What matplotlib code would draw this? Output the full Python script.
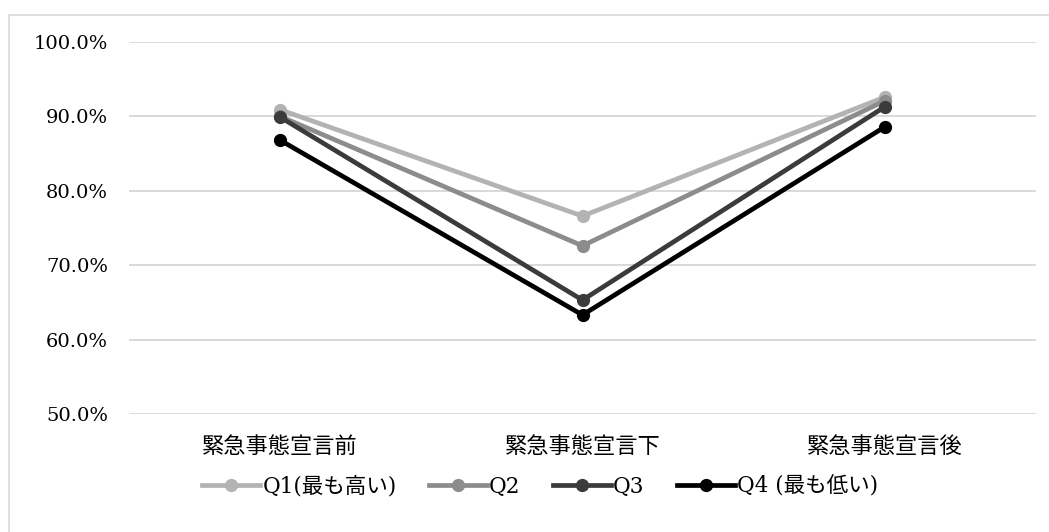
import matplotlib
matplotlib.use("Agg")
import matplotlib.pyplot as plt
from matplotlib.patches import Rectangle
from matplotlib.ticker import PercentFormatter

plt.rcParams["font.family"] = ["DejaVu Serif", "Noto Sans CJK JP", "DejaVu Sans"]

categories = ["緊急事態宣言前", "緊急事態宣言下", "緊急事態宣言後"]
q1 = [0.909, 0.766, 0.926]
q2 = [0.900, 0.726, 0.921]
q3 = [0.899, 0.653, 0.913]
q4 = [0.868, 0.633, 0.886]
labels = ["Q1(最も高い)", "Q2", "Q3", "Q4 (最も低い)"]
colors = ["#b3b3b3", "#8c8c8c", "#3b3b3b", "#000000"]

fig = plt.figure(figsize=(10.49, 5.32), dpi=100)
ax = fig.add_axes([0.123, 0.222, 0.8646, 0.699])

x = range(len(categories))
for vals, lab, col in zip([q1, q2, q3, q4], labels, colors):
    ax.plot(x, vals, color=col, lw=3.4, marker="o", ms=8.5, label=lab,
            solid_joinstyle="round")

ax.set_xlim(-0.5, 2.5)
ax.set_ylim(0.5, 1.0)
ax.set_yticks([0.5, 0.6, 0.7, 0.8, 0.9, 1.0])
ax.yaxis.set_major_formatter(PercentFormatter(1.0, decimals=1))
ax.set_xticks(list(x))
ax.set_xticklabels(categories)
ax.tick_params(axis="y", length=0, pad=15, labelsize=14)
ax.tick_params(axis="x", length=0, pad=16, labelsize=16)
ax.grid(axis="y", color="#d9d9d9", lw=1.4)
ax.set_axisbelow(True)
for s in ax.spines.values():
    s.set_visible(False)

fig.legend(loc="center", bbox_to_anchor=(0.515, 0.085), ncol=4, frameon=False,
           fontsize=15.5, handlelength=2.7, handletextpad=0.1, columnspacing=1.5)

# thin frame round the chart area
fig.add_artist(Rectangle((9 / 1049, -0.01), 1.02, 1 - 15 / 532 + 0.01,
                         transform=fig.transFigure, fill=False,
                         edgecolor="#d9d9d9", lw=1.2))

fig.savefig("out.png", dpi=100)
